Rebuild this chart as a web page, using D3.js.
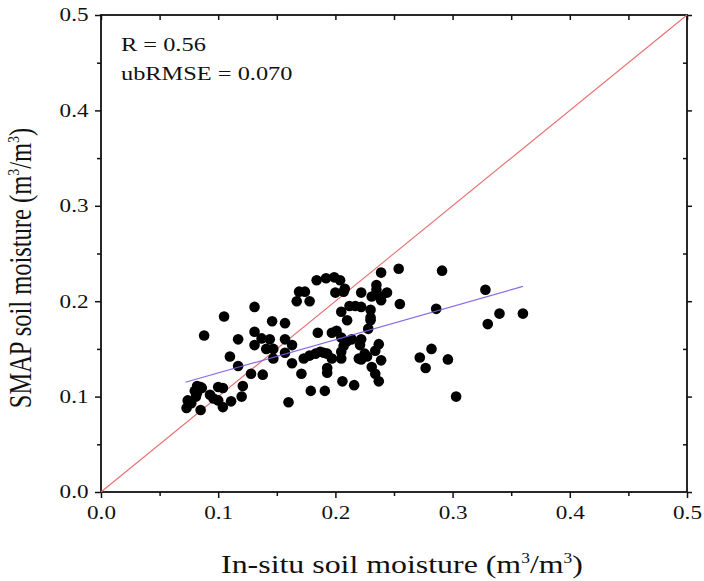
<!DOCTYPE html>
<html>
<head>
<meta charset="utf-8">
<script src="https://cdn.jsdelivr.net/npm/d3@7"></script>
<style>
  body { margin: 0; background: #fff; }
  svg { display: block; }
</style>
</head>
<body>
<svg id="chart" width="704" height="581"></svg>
<script>
// in-situ (x) and SMAP (y)
var insitu = [
  0.073, 0.074, 0.077, 0.080, 0.082, 0.086, 0.082, 0.081, 0.085, 0.093,
  0.096, 0.100, 0.104, 0.100, 0.104, 0.111, 0.120, 0.121, 0.085, 0.088,
  0.105, 0.131, 0.117, 0.131, 0.131, 0.137, 0.144, 0.141, 0.147, 0.110,
  0.117, 0.128, 0.138, 0.146, 0.147, 0.157, 0.157, 0.163, 0.157, 0.163,
  0.160, 0.179, 0.191, 0.171, 0.193, 0.193, 0.206, 0.216, 0.173, 0.178,
  0.183, 0.187, 0.190, 0.193, 0.197, 0.205, 0.205, 0.220, 0.222, 0.185,
  0.197, 0.201, 0.205, 0.210, 0.214, 0.207, 0.222, 0.221, 0.184, 0.192,
  0.199, 0.204, 0.169, 0.174, 0.167, 0.178, 0.200, 0.207, 0.208, 0.205,
  0.212, 0.217, 0.222, 0.210, 0.222, 0.239, 0.254, 0.291, 0.235, 0.235,
  0.231, 0.239, 0.244, 0.239, 0.255, 0.286, 0.230, 0.230, 0.230, 0.228,
  0.237, 0.234, 0.225, 0.227, 0.239, 0.231, 0.234, 0.237, 0.282, 0.272,
  0.296, 0.277, 0.303, 0.328, 0.340, 0.360, 0.330
];
var smap = [
  0.088, 0.096, 0.093, 0.106, 0.111, 0.109, 0.104, 0.100, 0.086, 0.102,
  0.098, 0.110, 0.109, 0.096, 0.089, 0.095, 0.100, 0.111, 0.110, 0.164,
  0.184, 0.194, 0.160, 0.168, 0.154, 0.161, 0.160, 0.150, 0.150, 0.142,
  0.132, 0.124, 0.123, 0.179, 0.140, 0.177, 0.160, 0.154, 0.146, 0.135,
  0.094, 0.106, 0.106, 0.124, 0.130, 0.125, 0.116, 0.112, 0.140, 0.143,
  0.145, 0.147, 0.146, 0.145, 0.140, 0.147, 0.140, 0.140, 0.139, 0.167,
  0.167, 0.169, 0.162, 0.158, 0.160, 0.153, 0.160, 0.154, 0.222, 0.224,
  0.225, 0.222, 0.210, 0.210, 0.200, 0.200, 0.209, 0.210, 0.213, 0.189,
  0.195, 0.195, 0.194, 0.180, 0.209, 0.230, 0.234, 0.232, 0.217, 0.212,
  0.205, 0.205, 0.209, 0.201, 0.197, 0.192, 0.191, 0.183, 0.180, 0.171,
  0.155, 0.148, 0.145, 0.142, 0.138, 0.131, 0.124, 0.116, 0.150, 0.141,
  0.139, 0.130, 0.100, 0.212, 0.187, 0.187, 0.176
];
// fitted line end points
var fitX = [0.072, 0.360];
var fitY = [0.115, 0.2155];
var oneToOne = [0, 0.5];
var tickValues = [0, 0.1, 0.2, 0.3, 0.4, 0.5];
var minorValues = [0.05, 0.15, 0.25, 0.35, 0.45];
var statLines = ["R = 0.56", "ubRMSE = 0.070"];

var SERIF = "'Liberation Serif', 'Times New Roman', serif";
var SX = 1.25; // the source figure is stretched sideways, so is its text

var svg = d3.select("#chart");
var margin = { left: 101, top: 15, right: 17, bottom: 89 };
var W = 704 - margin.left - margin.right;
var H = 581 - margin.top - margin.bottom;

var x = d3.scaleLinear().domain([0, 0.5]).range([0, W]);
var y = d3.scaleLinear().domain([0, 0.5]).range([H, 0]);

var g = svg.append("g")
  .attr("transform", "translate(" + margin.left + "," + margin.top + ")");

var fmt = d3.format(".1f");

//坐标轴
function styleAxis(sel) {
  sel.attr("font-family", null).attr("font-size", null);
  sel.select(".domain").remove();
  sel.selectAll("line").attr("stroke", "#111").attr("stroke-width", 1.5);
  sel.selectAll("text")
    .style("font-family", SERIF)
    .style("font-size", "18.5px")
    .attr("fill", "#111")
    .attr("transform", "scale(" + SX + ",1)");
}

g.append("g")
  .attr("transform", "translate(0," + H + ")")
  .call(d3.axisBottom(x).tickValues(tickValues).tickFormat(fmt).tickSize(6).tickPadding(8))
  .call(styleAxis);
g.append("g")
  .attr("transform", "translate(0," + H + ")")
  .call(d3.axisBottom(x).tickValues(minorValues).tickFormat("").tickSize(4))
  .call(styleAxis);

g.append("g")
  .call(d3.axisLeft(y).tickValues(tickValues).tickFormat(fmt).tickSize(6).tickPadding(4))
  .call(styleAxis);
g.append("g")
  .call(d3.axisLeft(y).tickValues(minorValues).tickFormat("").tickSize(4))
  .call(styleAxis);

// top and right ticks, no labels
g.append("g")
  .call(d3.axisTop(x).tickValues(tickValues.concat(minorValues)).tickFormat("").tickSize(-5))
  .call(styleAxis);
g.append("g")
  .attr("transform", "translate(" + W + ",0)")
  .call(d3.axisRight(y).tickValues(tickValues).tickFormat("").tickSize(5))
  .call(styleAxis);
g.append("g")
  .attr("transform", "translate(" + W + ",0)")
  .call(d3.axisRight(y).tickValues(minorValues).tickFormat("").tickSize(-4))
  .call(styleAxis);

//边框
g.append("rect")
  .attr("x", 0)
  .attr("y", 0)
  .attr("width", W)
  .attr("height", H)
  .attr("fill", "none")
  .attr("stroke", "#111")
  .attr("stroke-width", 1.8);

// 1:1 line
g.append("line")
  .attr("x1", x(oneToOne[0]))
  .attr("y1", y(oneToOne[0]))
  .attr("x2", x(oneToOne[1]))
  .attr("y2", y(oneToOne[1]))
  .attr("stroke", "#e8706f")
  .attr("stroke-width", 1.1);

//散点
g.append("g")
  .selectAll("circle")
  .data(insitu)
  .enter()
  .append("circle")
  .attr("cx", function (d) { return x(d); })
  .attr("cy", function (d, i) { return y(smap[i]); })
  .attr("r", 5.3)
  .attr("fill", "#000");

// regression line, drawn on top of the dots
g.append("line")
  .attr("x1", x(fitX[0]))
  .attr("y1", y(fitY[0]))
  .attr("x2", x(fitX[1]))
  .attr("y2", y(fitY[1]))
  .attr("stroke", "#7b5ce0")
  .attr("stroke-width", 1.2)
  .attr("stroke-opacity", 0.9);

//统计文字
g.append("g")
  .selectAll("text")
  .data(statLines)
  .enter()
  .append("text")
  .attr("transform", function (d, i) {
    return "translate(20," + (36 + i * 29) + ") scale(" + SX + ",1)";
  })
  .style("font-family", SERIF)
  .style("font-size", "19.5px")
  .attr("fill", "#111")
  .text(function (d) { return d; });

// axis titles with superscripts (shift in px so it returns to the baseline)
function unitTitle(sel, label) {
  sel.append("tspan").text(label + " (m");
  sel.append("tspan").attr("dy", -10).style("font-size", "14px").text("3");
  sel.append("tspan").attr("dy", 10).text("/m");
  sel.append("tspan").attr("dy", -10).style("font-size", "14px").text("3");
  sel.append("tspan").attr("dy", 10).text(")");
}

svg.append("text")
  .attr("transform", "translate(" + (margin.left + W / 2 + 8) + ",573) scale(" + SX + ",1)")
  .attr("text-anchor", "middle")
  .style("font-family", SERIF)
  .style("font-size", "25.5px")
  .attr("fill", "#111")
  .call(unitTitle, "In-situ soil moisture");

svg.append("text")
  .attr("transform", "translate(31,268) scale(" + SX + ",1) rotate(-90)")
  .attr("text-anchor", "middle")
  .style("font-family", SERIF)
  .style("font-size", "24.5px")
  .attr("fill", "#111")
  .call(unitTitle, "SMAP soil moisture");
</script>
</body>
</html>
